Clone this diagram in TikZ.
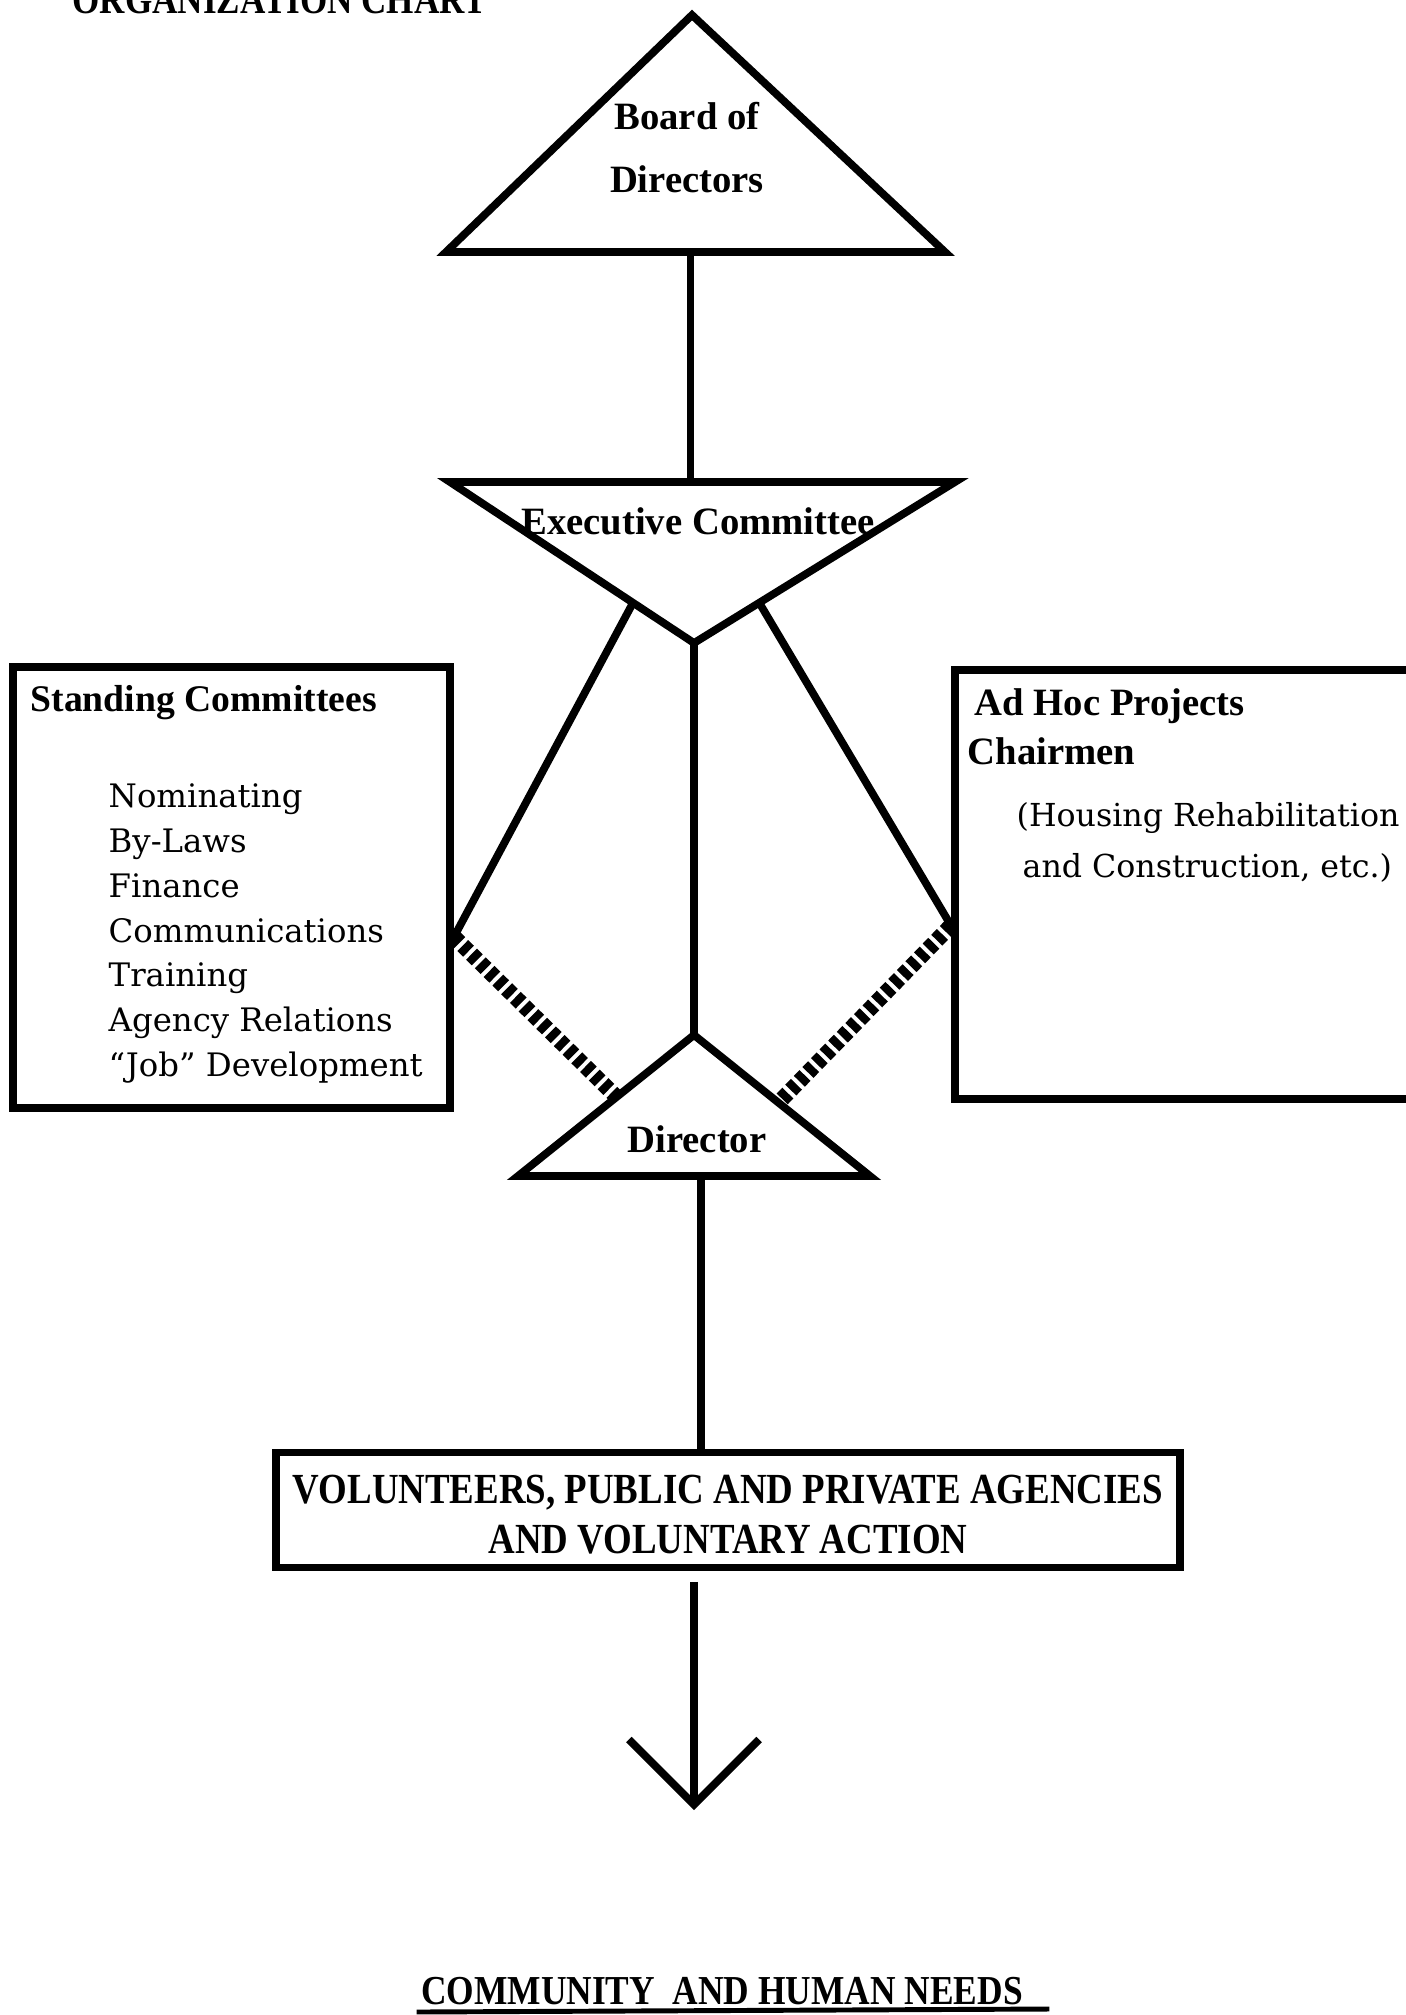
\documentclass[tikz,border=0pt]{standalone}
\usepackage{fontspec}
\setmainfont{Liberation Serif}
\newfontfamily\listfont{DejaVu Serif}
\newfontfamily\capsfont[FakeStretch=0.86]{Liberation Serif}
\usetikzlibrary{arrows.meta, positioning, calc}

\begin{document}
\begin{tikzpicture}[
    x=0.01cm, y=-0.01cm,
    orgline/.style={line width=2.2pt, line join=miter},
    hatched/.style={line width=4.4pt, dash pattern=on 2.3pt off 1.2pt},
    orgbox/.style={draw, line width=2.2pt, rectangle, inner sep=0},
    head/.style={font=\fontsize{11}{17.9}\selectfont\bfseries, inner sep=0, align=center},
    listing/.style={font=\listfont\fontsize{9.2}{12.75}\selectfont, inner sep=0, align=left, anchor=north west},
    capsline/.style={font=\capsfont\bfseries\fontsize{12.2}{14.2}\selectfont, inner sep=0, align=center}
]
    \useasboundingbox (0,0) rectangle (1405,2015);

    % triangle corners
    \coordinate (boardtop) at (692,15);
    \coordinate (boardl) at (446,252);
    \coordinate (boardr) at (945,252);
    \coordinate (execl) at (450,482);
    \coordinate (execr) at (955,482);
    \coordinate (execbot) at (694,643);
    \coordinate (dirtop) at (694,1035);
    \coordinate (dirl) at (518,1176);
    \coordinate (dirr) at (870,1176);

    \draw[orgline] (boardtop) -- (boardl) -- (boardr) -- cycle;
    \draw[orgline] (execl) -- (execr) -- (execbot) -- cycle;
    \draw[orgline] (dirtop) -- (dirl) -- (dirr) -- cycle;

    \node[head] (board) at (687,148) {Board of\\Directors};
    \node[head] (exec) at (698,521) {Executive Committee};
    \node[head] (director) at (697,1139) {Director};

    \node[capsline, font=\capsfont\bfseries\fontsize{11.6}{14}\selectfont, anchor=base west] (title) at (72,13) {ORGANIZATION CHART};

    % side boxes
    \node[orgbox, minimum width=4.37cm, minimum height=4.41cm] (standing) at (231.5,887.5) {};
    \node[orgbox, minimum width=4.65cm, minimum height=4.29cm] (adhoc) at (1187.5,884.5) {};

    \node[head, font=\fontsize{10.7}{13}\selectfont\bfseries, anchor=base west] (standtitle) at (30,711) {Standing Committees};
    \node[listing] (standlist) at (108,783) {Nominating\\By-Laws\\Finance\\Communications\\Training\\Agency Relations\\“Job” Development};

    \node[head, anchor=base west] (adhoctitle) at (974,715) {Ad Hoc Projects};
    \node[head, anchor=base west] (chairmen) at (967,764) {Chairmen};
    \node[listing, font=\listfont\fontsize{9}{14.5}\selectfont] (adhocnote) at (1016,802) {(Housing Rehabilitation\\\hspace{1.7pt}and Construction, etc.)};

    % connectors
    \coordinate (boardbot) at ($(boardl)!0.49!(boardr)$);
    \coordinate (jl) at ($(standing.north east)!0.61!(standing.south east)$);
    \coordinate (jr) at ($(adhoc.north west)!0.594!(adhoc.south west)$);

    \draw[orgline] (boardbot) -- (boardbot |- execl);
    \draw[orgline] ($(execl)!0.75!(execbot)$) -- (jl);
    \draw[orgline] ($(execr)!0.75!(execbot)$) -- (jr);
    \draw[orgline] (execbot) -- (dirtop);
    \draw[hatched] (jl) -- ($(dirtop)!0.44!(dirl)$);
    \draw[hatched] (jr) -- ($(dirtop)!0.48!(dirr)$);

    % bottom part
    \node[orgbox, capsline, minimum width=9.04cm, minimum height=1.15cm] (volunteers) at (728,1510) {\rule{0pt}{10.5pt}VOLUNTEERS, PUBLIC AND PRIVATE AGENCIES\\AND VOLUNTARY ACTION};

    \coordinate (dirbot) at ($(dirl)!0.52!(dirr)$);
    \draw[orgline] (dirbot) -- (dirbot |- volunteers.north);

    \coordinate (needs) at (694,1810);
    \draw[orgline, shorten <=3pt, -{Straight Barb[length=0.65cm, width=1.3cm]}] (needs |- volunteers.south) -- (needs);

    \node[capsline, font=\capsfont\bfseries\fontsize{11.7}{14}\selectfont, anchor=base] (needstext) at (722,2004) {COMMUNITY\ \ AND HUMAN NEEDS};
    \draw[line width=1.4pt] ($(needstext.base west)+(-4,8)$) -- ($(needstext.base east)+(26,5)$);
\end{tikzpicture}
\end{document}
